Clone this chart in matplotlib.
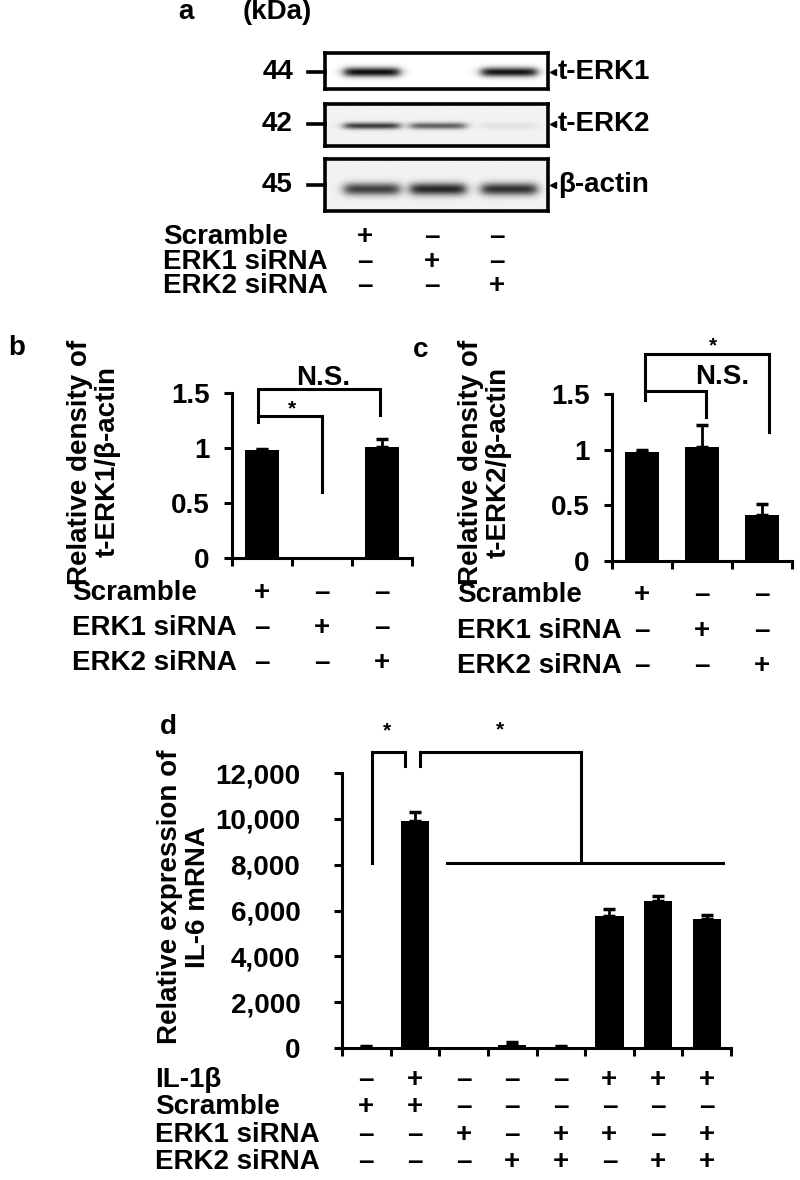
import numpy as np
import matplotlib
matplotlib.use("Agg")
import matplotlib.pyplot as plt
from matplotlib import transforms
from matplotlib.lines import Line2D

plt.rcParams['font.family'] = ['Liberation Sans', 'DejaVu Sans']
plt.rcParams['font.weight'] = 'bold'
plt.rcParams['font.size'] = 20

W, H = 800, 1180

# ---- panel a: western blot ----
blot_names = ["t-ERK1", "t-ERK2", "β-actin"]
blot_kda = ["44", "42", "45"]
erk1_band = [0.95, 0.0, 0.92]
erk2_band = [0.72, 0.58, 0.07]
actin_band = [0.70, 0.80, 0.76]

rows_3 = ["Scramble", "ERK1 siRNA", "ERK2 siRNA"]
signs_3 = [["+", "–", "–"],
           ["–", "+", "–"],
           ["–", "–", "+"]]

# ---- panels b, c: relative density ----
erk1_density = [0.98, 0.0, 1.01]
erk1_err = [0.015, 0.0, 0.07]
erk2_density = [0.98, 1.02, 0.41]
erk2_err = [0.015, 0.2, 0.1]
density_ticks = [0, 0.5, 1, 1.5]
density_labels = ["0", "0.5", "1", "1.5"]

# ---- panel d: IL-6 mRNA ----
il6 = [40, 9900, 0, 130, 30, 5770, 6420, 5640]
il6_err = [30, 400, 0, 120, 70, 300, 220, 170]
il6_ticks = [0, 2000, 4000, 6000, 8000, 10000, 12000]
il6_labels = ["0", "2,000", "4,000", "6,000", "8,000", "10,000", "12,000"]
rows_d = ["IL-1β", "Scramble", "ERK1 siRNA", "ERK2 siRNA"]
signs_d = [["–", "+", "–", "–", "–", "+", "+", "+"],
           ["+", "+", "–", "–", "–", "–", "–", "–"],
           ["–", "–", "+", "–", "+", "+", "–", "+"],
           ["–", "–", "–", "+", "+", "–", "+", "+"]]

LW = 2.2


def fx(px):
    return px / W


def fy(py):
    return 1 - py / H


def rect(x0, y0, x1, y1):
    return [x0 / W, 1 - y1 / H, (x1 - x0) / W, (y1 - y0) / H]


fig = plt.figure(figsize=(8, 11.8), dpi=100)


def blot(box, bands, yc, sigma, bg):
    ax = fig.add_axes(rect(*box))
    lane_x = [0.63, 1.52, 2.48]
    xs = np.linspace(0, 3, 450)
    ys = np.linspace(0, 1, 90)
    X, Y = np.meshgrid(xs, ys)
    img = np.zeros_like(X)
    for c, v in zip(lane_x, bands):
        horiz = 1 / (1 + np.exp(-(X - (c - 0.37)) * 25)) / (1 + np.exp((X - (c + 0.37)) * 25))
        img += v * horiz * np.exp(-((Y - yc) / sigma) ** 2)
    ax.imshow(np.clip(bg - img, 0, 1), cmap="gray", vmin=0, vmax=1,
              extent=[0, 3, 0, 1], origin="lower", aspect="auto")
    ax.set_xlim(0, 3)
    ax.set_ylim(0, 1)
    ax.set_xticks([])
    ax.set_yticks([])
    for s in ax.spines.values():
        s.set_linewidth(2.6)
    return ax


blot((325, 53, 548, 89), erk1_band, 0.47, 0.13, 1.0)
blot((325, 104, 548, 146), erk2_band, 0.48, 0.08, 0.95)
blot((325, 159, 548, 211), actin_band, 0.42, 0.12, 0.95)

fig.text(fx(178), fy(12), "a", ha="left", va="center")
fig.text(fx(243), fy(12), "(kDa)", ha="left", va="center")
for kda, name, y in zip(blot_kda, blot_names, [72, 124, 185]):
    fig.text(fx(293), fy(y), kda, ha="right", va="center")
    fig.add_artist(Line2D([fx(308), fx(325)], [fy(y), fy(y)], lw=2.6, color="black"))
    fig.add_artist(Line2D([fx(553)], [fy(y)], marker="<", markersize=5, color="black"))
    fig.text(fx(558), fy(y), name, ha="left", va="center")

for name, row, y in zip(rows_3, signs_3, [237, 262, 286]):
    fig.text(fx(163), fy(y), name, ha="left", va="center")
    for s, x in zip(row, [365, 432, 497]):
        fig.text(fx(x), fy(y), s, ha="center", va="center")


def bar_panel(box, values, errs, ymax, yticks, ylabels, pad):
    ax = fig.add_axes(rect(*box))
    n = len(values)
    pos = np.arange(n) + 0.5
    ax.bar(pos, values, width=0.58, color="black")
    keep = np.array(errs) > 0
    ax.errorbar(pos[keep], np.array(values)[keep], yerr=[np.zeros(keep.sum()), np.array(errs)[keep]],
                fmt="none", ecolor="black", elinewidth=2, capsize=4, capthick=2.5)
    ax.set_xlim(0, n)
    ax.set_ylim(0, ymax)
    ax.set_xticks(range(n + 1))
    ax.set_xticklabels([])
    ax.set_yticks(yticks)
    ax.set_yticklabels(ylabels)
    for s in ["top", "right"]:
        ax.spines[s].set_visible(False)
    for s in ["left", "bottom"]:
        ax.spines[s].set_linewidth(LW)
    ax.tick_params(axis="both", length=6, width=LW, direction="out")
    ax.tick_params(axis="y", pad=pad)
    return ax


def bracket(ax, xs, ys):
    ax.plot(xs, ys, color="black", lw=LW, clip_on=False, solid_joinstyle="miter")


def sign_rows(ax, names, signs, label_x, row_y):
    tr = transforms.blended_transform_factory(ax.transData, fig.transFigure)
    for name, row, y in zip(names, signs, row_y):
        fig.text(fx(label_x), fy(y), name, ha="left", va="center")
        for i, s in enumerate(row):
            ax.text(i + 0.5, fy(y), s, transform=tr, ha="center", va="center")


# ---- panel b ----
axb = bar_panel((232, 393, 412, 558), erk1_density, erk1_err, 1.5,
                density_ticks, density_labels, 10)
bracket(axb, [0.43, 0.43, 2.47, 2.47], [1.24, 1.54, 1.54, 1.30])
bracket(axb, [0.43, 1.5, 1.5], [1.29, 1.29, 0.6])
axb.text(1.52, 1.64, "N.S.", ha="center", va="center", clip_on=False)
axb.text(1.0, 1.36, "*", ha="center", va="center", fontsize=15, clip_on=False)
fig.text(fx(8), fy(348), "b", ha="left", va="center")
fig.text(fx(94), fy(462), "Relative density of\nt-ERK1/β-actin", rotation=90,
         ha="center", va="center", linespacing=1.1)
sign_rows(axb, rows_3, signs_3, 72, [593, 628, 663])

# ---- panel c ----
axc = bar_panel((612, 394, 792, 561), erk2_density, erk2_err, 1.5,
                density_ticks, density_labels, 10)
bracket(axc, [0.55, 0.55, 2.62, 2.62], [1.45, 1.86, 1.86, 1.16])
bracket(axc, [0.55, 1.57, 1.57], [1.53, 1.53, 1.29])
axc.text(1.83, 1.65, "N.S.", ha="center", va="center", clip_on=False)
axc.text(1.68, 1.93, "*", ha="center", va="center", fontsize=15, clip_on=False)
fig.text(fx(413), fy(350), "c", ha="left", va="center")
fig.text(fx(485), fy(462), "Relative density of\nt-ERK2/β-actin", rotation=90,
         ha="center", va="center", linespacing=1.1)
sign_rows(axc, rows_3, signs_3, 457, [595, 631, 666])

# ---- panel d ----
axd = bar_panel((342, 773, 731, 1048), il6, il6_err, 12000,
                il6_ticks, il6_labels, 24)
bracket(axd, [0.62, 0.62, 1.30, 1.30], [8070, 12900, 12900, 12300])
bracket(axd, [1.60, 1.60, 4.92, 4.92], [12300, 12900, 12900, 8070])
bracket(axd, [2.16, 7.84], [8070, 8070])
axd.text(0.93, 13850, "*", ha="center", va="center", fontsize=15, clip_on=False)
axd.text(3.25, 13900, "*", ha="center", va="center", fontsize=15, clip_on=False)
fig.text(fx(160), fy(727), "d", ha="left", va="center")
fig.text(fx(184), fy(897), "Relative expression of\nIL-6 mRNA", rotation=90,
         ha="center", va="center", linespacing=1.1)
sign_rows(axd, rows_d, signs_d, 155, [1080, 1107, 1135, 1162])

fig.savefig("out.png", dpi=100)
